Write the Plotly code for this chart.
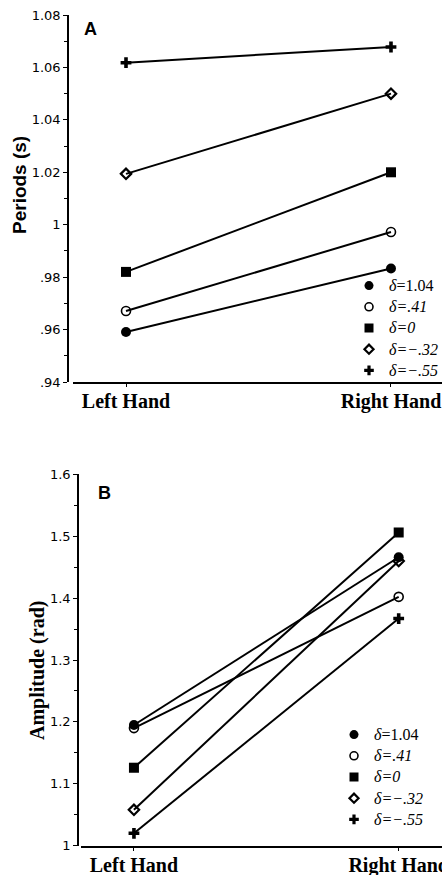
import plotly.graph_objects as go

# Hand conditions and coupling-asymmetry series
hands = ["Left Hand", "Right Hand"]
series_labels = [
    "<i>δ</i>=1.04",
    "<i>δ=.41</i>",
    "<i>δ=0</i>",
    "<i>δ=−.32</i>",
    "<i>δ=−.55</i>",
]

# Panel A: periods (s)
period_left = [0.9591, 0.9671, 0.9820, 1.0194, 1.0618]
period_right = [0.9833, 0.9972, 1.0200, 1.0500, 1.0678]

# Panel B: amplitude (rad)
amp_left = [1.195, 1.190, 1.126, 1.058, 1.020]
amp_right = [1.466, 1.402, 1.506, 1.460, 1.367]

# Tick labels
period_ticks = [0.94, 0.96, 0.98, 1.00, 1.02, 1.04, 1.06, 1.08]
period_ticktext = [".94", ".96", ".98", "1", "1.02", "1.04", "1.06", "1.08"]
amp_ticks = [1.0, 1.1, 1.2, 1.3, 1.4, 1.5, 1.6]
amp_ticktext = ["1", "1.1", "1.2", "1.3", "1.4", "1.5", "1.6"]

W, H = 442, 875


def px_x(p):
    return p / W


def px_y(p):
    return 1 - p / H


# legend text is set larger than the legend font so rows stay tight
series_names = ['<span style="font-size:16px">' + s + "</span>" for s in series_labels]

markers = [
    dict(symbol="circle", size=10, color="black"),
    dict(symbol="circle-open", size=9, color="black", line=dict(width=1.6, color="black")),
    dict(symbol="square", size=10, color="black"),
    dict(symbol="diamond-open", size=8, color="black", line=dict(width=2.2, color="black")),
    dict(symbol="cross", size=9, color="black"),
]
legend_markers = [
    dict(symbol="circle", size=9, color="black"),
    dict(symbol="circle-open", size=8, color="black", line=dict(width=1.6, color="black")),
    dict(symbol="square", size=9, color="black"),
    dict(symbol="diamond-open", size=7, color="black", line=dict(width=2.2, color="black")),
    dict(symbol="cross", size=8, color="black"),
]

fig = go.Figure()

panels = [
    (period_left, period_right, "x", "y", "legend"),
    (amp_left, amp_right, "x2", "y2", "legend2"),
]
for left, right, xa, ya, lg in panels:
    for i, name in enumerate(series_names):
        fig.add_trace(go.Scatter(
            x=hands, y=[left[i], right[i]], xaxis=xa, yaxis=ya,
            mode="lines", line=dict(color="black", width=2),
            showlegend=False, hoverinfo="skip",
        ))
    for i, name in enumerate(series_names):
        fig.add_trace(go.Scatter(
            x=hands, y=[left[i], right[i]], xaxis=xa, yaxis=ya,
            mode="markers", marker=markers[i], name=series_labels[i],
            legend=lg, showlegend=False,
        ))
    # marker-only legend entries
    for i, name in enumerate(series_names):
        fig.add_trace(go.Scatter(
            x=[None], y=[None], xaxis=xa, yaxis=ya,
            mode="markers", marker=legend_markers[i], name=name,
            legend=lg, showlegend=True,
        ))

tick_font = dict(family="DejaVu Sans", size=13, color="black")
cat_font = dict(family="Liberation Serif", size=20, color="black", weight="bold")
legend_font = dict(family="Liberation Serif", size=14, color="black")
axis_common = dict(showgrid=False, zeroline=False, showline=True, automargin=False,
                   linecolor="black", linewidth=1.6, ticks="outside",
                   tickcolor="black", tickwidth=1.2, ticklen=4)

fig.update_layout(
    template="none",
    width=W, height=H,
    margin=dict(l=0, r=0, t=0, b=0, autoexpand=False),
    paper_bgcolor="white", plot_bgcolor="white",
    showlegend=True,
    xaxis=dict(axis_common, domain=[px_x(73), 1], anchor="y",
               type="category", range=[-0.2, 1.1925],
               tickfont=cat_font, ticklen=3, ticklabelstandoff=-3),
    yaxis=dict(axis_common, domain=[px_y(382), px_y(15)], anchor="free",
               position=px_x(68), range=[0.94, 1.08],
               tickmode="array", tickvals=period_ticks, ticktext=period_ticktext,
               tickfont=tick_font,
               minor=dict(tickmode="linear", tick0=0.93, dtick=0.02,
                          ticks="outside", ticklen=3, tickcolor="black")),
    xaxis2=dict(axis_common, domain=[px_x(81), 1], anchor="y2",
                type="category", range=[-0.2, 1.1636],
                tickfont=cat_font, ticklen=3, ticklabelstandoff=-3),
    yaxis2=dict(axis_common, domain=[px_y(845.7), px_y(474.3)], anchor="free",
                position=px_x(78), range=[1.0, 1.6],
                tickmode="array", tickvals=amp_ticks, ticktext=amp_ticktext,
                tickfont=tick_font,
                minor=dict(tickmode="linear", tick0=1.05, dtick=0.1,
                           ticks="outside", ticklen=3, tickcolor="black")),
    legend=dict(x=px_x(349), y=px_y(270), xanchor="left", yanchor="top",
                bgcolor="rgba(0,0,0,0)", borderwidth=0, font=legend_font,
                tracegroupgap=0, itemwidth=30),
    legend2=dict(x=px_x(334), y=px_y(719), xanchor="left", yanchor="top",
                 bgcolor="rgba(0,0,0,0)", borderwidth=0, font=legend_font,
                 tracegroupgap=0, itemwidth=30),
    annotations=[
        dict(text="<b>A</b>", x=px_x(90), y=px_y(29), xref="paper", yref="paper",
             xanchor="center", yanchor="middle", showarrow=False,
             font=dict(family="Liberation Sans", size=18, color="black")),
        dict(text="<b>B</b>", x=px_x(104), y=px_y(493), xref="paper", yref="paper",
             xanchor="center", yanchor="middle", showarrow=False,
             font=dict(family="Liberation Sans", size=18, color="black")),
        dict(text="<b>Periods (s)</b>", x=px_x(20), y=px_y(185), xref="paper", yref="paper",
             xanchor="center", yanchor="middle", showarrow=False, textangle=-90,
             font=dict(family="Liberation Sans", size=19, color="black")),
        dict(text="<b>Amplitude (rad)</b>", x=px_x(37), y=px_y(671), xref="paper", yref="paper",
             xanchor="center", yanchor="middle", showarrow=False, textangle=-90,
             font=dict(family="Liberation Serif", size=20, color="black")),
    ],
)

fig.write_html("out.html")
